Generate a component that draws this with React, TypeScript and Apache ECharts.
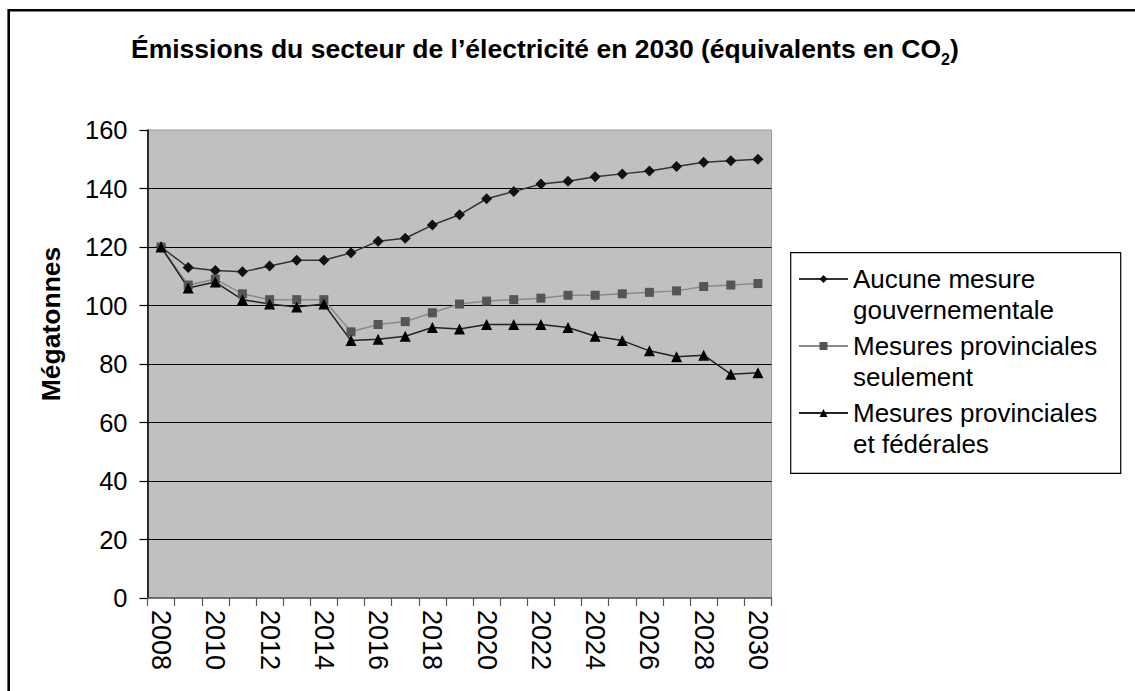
import React, { useEffect, useRef } from "react";
import * as echarts from "echarts";

const years = ["2008","2009","2010","2011","2012","2013","2014","2015","2016","2017","2018","2019","2020","2021","2022","2023","2024","2025","2026","2027","2028","2029","2030"];
const seriesNames = [
  "Aucune mesure\ngouvernementale",
  "Mesures provinciales\nseulement",
  "Mesures provinciales\net fédérales",
];
const aucuneMesure = [120, 113, 112, 111.5, 113.5, 115.5, 115.5, 118, 122, 123, 127.5, 131, 136.5, 139, 141.5, 142.5, 144, 145, 146, 147.5, 149, 149.5, 150];
const provinciales = [120, 107, 109, 104, 102, 102, 102, 91, 93.5, 94.5, 97.5, 100.5, 101.5, 102, 102.5, 103.5, 103.5, 104, 104.5, 105, 106.5, 107, 107.5];
const provFederales = [120, 106, 108, 102, 100.5, 99.5, 100.5, 88, 88.5, 89.5, 92.5, 92, 93.5, 93.5, 93.5, 92.5, 89.5, 88, 84.5, 82.5, 83, 76.5, 77];
const yTicks = { min: 0, max: 160, interval: 20 };

const FONT = "'Liberation Sans', Arial, sans-serif";

export default function App() {
  const ref = useRef<HTMLDivElement>(null);
  useEffect(() => {
    if (!ref.current) return;
    const chart = echarts.init(ref.current, null, { renderer: "svg" });
    chart.setOption({
      animation: false,
      backgroundColor: "#fff",
      textStyle: { fontFamily: FONT },
      title: {
        left: 131,
        top: 31,
        padding: 0,
        text: "{t|Émissions du secteur de l’électricité en 2030 (équivalents en CO}{s|2}{t|)}",
        textStyle: {
          rich: {
            t: { fontSize: 26.5, fontWeight: "bold", color: "#000", fontFamily: FONT },
            s: { fontSize: 16, fontWeight: "bold", color: "#000", fontFamily: FONT, verticalAlign: "bottom", padding: [20, 0, 0, 0] },
          },
        },
      },
      grid: {
        left: 147.5,
        top: 130,
        width: 624,
        height: 468,
        show: true,
        backgroundColor: "#c0c0c0",
        borderColor: "#9a9a9a",
        borderWidth: 1,
        containLabel: false,
      },
      legend: {
        orient: "vertical",
        left: 798,
        top: 232.5,
        padding: 0,
        itemGap: -26,
        itemWidth: 49,
        itemHeight: 10,
        data: seriesNames,
        formatter: (name: string) => "\n" + name,
        textStyle: {
          fontSize: 26,
          lineHeight: 31,
          color: "#000",
          fontFamily: FONT,
          backgroundColor: "transparent",
        },
      },
      graphic: [
        {
          type: "rect",
          silent: true,
          shape: { x: 8.7, y: 10.3, width: 3000, height: 3000 },
          style: { fill: "none", stroke: "#000", lineWidth: 2.6 },
        },
        {
          type: "rect",
          silent: true,
          shape: { x: 790.7, y: 252.7, width: 330, height: 220.6 },
          style: { fill: "none", stroke: "#000", lineWidth: 1.2 },
        },
      ],
      xAxis: {
        type: "category",
        data: years,
        boundaryGap: true,
        axisLine: { show: true, lineStyle: { color: "#555", width: 1.5 } },
        axisTick: { show: true, interval: 0, length: 8, lineStyle: { color: "#555", width: 1.2 } },
        axisLabel: { interval: 1, rotate: -90, fontSize: 27, margin: 12, color: "#000", fontFamily: FONT },
        splitLine: { show: false },
      },
      yAxis: {
        type: "value",
        min: yTicks.min,
        max: yTicks.max,
        interval: yTicks.interval,
        name: "Mégatonnes",
        nameLocation: "middle",
        nameGap: 83,
        nameTextStyle: { fontSize: 26.5, fontWeight: "bold", color: "#000", fontFamily: FONT, padding: [0, 0, 0, 80] },
        axisLine: { show: true, lineStyle: { color: "#000", width: 1.5 } },
        axisTick: { show: true, length: 8, lineStyle: { color: "#000", width: 1.2 } },
        axisLabel: { fontSize: 25.5, margin: 20, color: "#000", fontFamily: FONT },
        splitLine: { show: true, showMaxLine: false, showMinLine: false, lineStyle: { color: "#000", width: 1.2 } },
      },
      series: [
        {
          name: seriesNames[0],
          type: "line",
          data: aucuneMesure,
          symbol: "diamond",
          symbolSize: 11,
          itemStyle: { color: "#111" },
          lineStyle: { color: "#333", width: 1.5 },
        },
        {
          name: seriesNames[1],
          type: "line",
          data: provinciales,
          symbol: "rect",
          symbolSize: 9,
          itemStyle: { color: "#555" },
          lineStyle: { color: "#8a8a8a", width: 1.5 },
        },
        {
          name: seriesNames[2],
          type: "line",
          data: provFederales,
          symbol: "triangle",
          symbolSize: 11,
          itemStyle: { color: "#000" },
          lineStyle: { color: "#222", width: 1.5 },
        },
      ],
    });
    return () => chart.dispose();
  }, []);
  return <div ref={ref} style={{ position: "absolute", left: 0, top: 0, width: 1135, height: 691 }} />;
}
